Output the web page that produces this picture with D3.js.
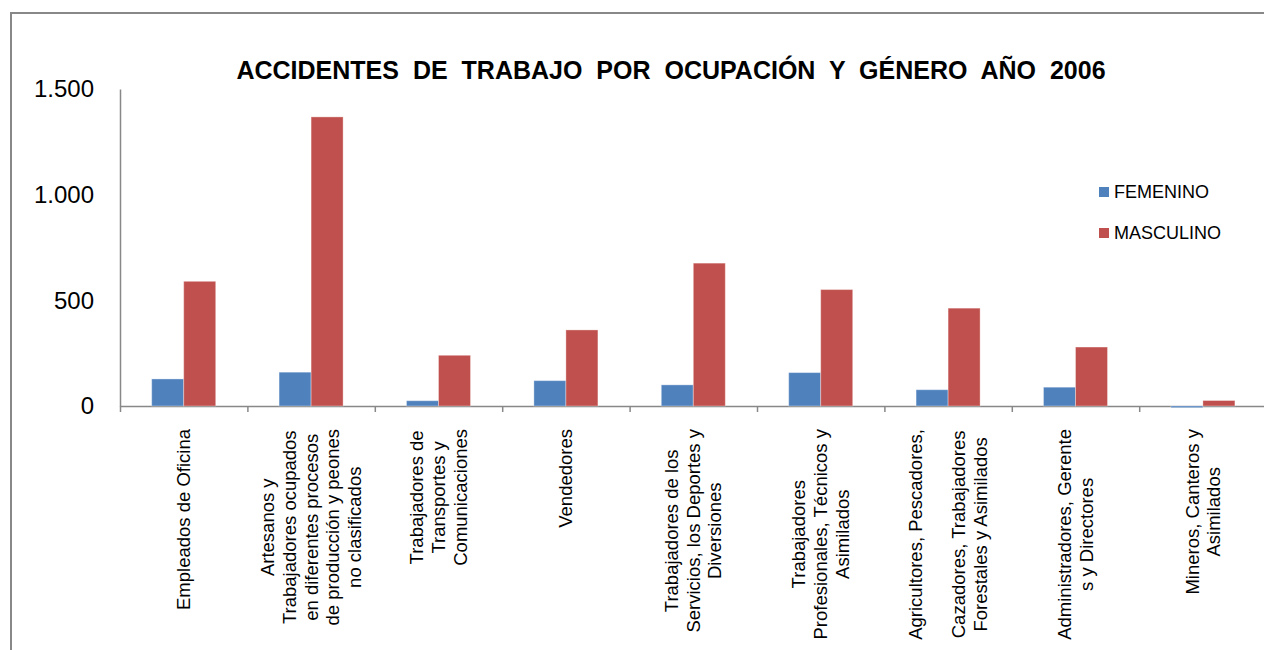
<!DOCTYPE html>
<html>
<head>
<meta charset="utf-8">
<script src="https://cdn.jsdelivr.net/npm/d3@7"></script>
<style>
  body { margin: 0; background: #fff; }
  text { font-family: "Liberation Sans", Arial, sans-serif; fill: #000; }
</style>
</head>
<body>
<svg width="1264" height="650"></svg>
<script>
// categorias (cada una partida en lineas como en el grafico)
var categorias = [
  ["Empleados de Oficina"],
  ["Artesanos y", "Trabajadores ocupados", "en diferentes procesos", "de producción y peones", "no clasificados"],
  ["Trabajadores de", "Transportes y", "Comunicaciones"],
  ["Vendedores"],
  ["Trabajadores de los", "Servicios, los Deportes y", "Diversiones"],
  ["Trabajadores", "Profesionales, Técnicos y", "Asimilados"],
  ["Agricultores, Pescadores,", "", "Cazadores, Trabajadores", "Forestales y Asimilados"],
  ["Administradores, Gerente", "s y Directores"],
  ["Mineros, Canteros y", "Asimilados"]
];
var series = ["FEMENINO", "MASCULINO"];
var femenino  = [128, 160, 25, 120, 100, 158, 77, 89, -8];
var masculino = [590, 1368, 240, 360, 676, 551, 463, 279, 26];
var yTicks = [0, 500, 1000, 1500];
var colores = {FEMENINO: "#4F81BD", MASCULINO: "#C0504D"};

var svg = d3.select("svg");
var mLeft = 120, mTop = 89, mBottom = 406, step = 127.4;

// marco del grafico
svg.append("rect")
   .attr("x", 11).attr("y", 13)
   .attr("width", 1300).attr("height", 700)
   .attr("fill", "none")
   .attr("stroke", "#888")
   .attr("stroke-width", 2);

svg.append("text")
   .attr("x", 671).attr("y", 79)
   .attr("text-anchor", "middle")
   .style("font-size", "25px")
   .style("font-weight", "bold")
   .style("word-spacing", "7px")
   .text("ACCIDENTES DE TRABAJO POR OCUPACIÓN Y GÉNERO AÑO 2006");

var x = d3.scaleBand()
          .domain(d3.range(categorias.length))
          .range([mLeft, mLeft + step * categorias.length]);
var xs = d3.scaleBand().domain(series).range([0, x.bandwidth()]).paddingOuter(0.99);
var y = d3.scaleLinear().domain([0, 1500]).range([mBottom, mTop]);

var loc = d3.formatLocale({decimal: ",", thousands: ".", grouping: [3], currency: ["", ""]});

// barras
var datos = [];
categorias.forEach(function(c, i) {
  datos.push({i: i, s: "FEMENINO", v: femenino[i]});
  datos.push({i: i, s: "MASCULINO", v: masculino[i]});
});

// eje x con marcas entre categorias (debajo de las barras)
var xb = d3.scaleLinear().domain([0, categorias.length]).range(x.range());
var xAxis = svg.append("g")
   .attr("transform", "translate(0," + y(0) + ")")
   .call(d3.axisBottom(xb).tickValues(d3.range(categorias.length + 1))
           .tickSize(6).tickSizeOuter(0).tickFormat(""));
xAxis.select(".domain").attr("stroke", "#888").attr("stroke-width", 1.5);
xAxis.selectAll(".tick line").attr("stroke", "#888").attr("stroke-width", 1.5);

svg.append("g").selectAll("rect")
   .data(datos)
   .enter()
   .append("rect")
   .attr("x", function(d) { return x(d.i) + xs(d.s); })
   .attr("width", xs.bandwidth())
   .attr("y", function(d) { return y(Math.max(0, d.v)); })
   .attr("height", function(d) { return Math.abs(y(d.v) - y(0)); })
   .attr("fill", function(d) { return colores[d.s]; })
   .attr("stroke", "rgba(255,255,255,0.35)")
   .attr("stroke-width", 1);

// eje y
var yAxis = svg.append("g")
   .attr("transform", "translate(" + mLeft + ",0)")
   .call(d3.axisLeft(y).tickValues(yTicks).tickSize(0).tickPadding(26)
           .tickFormat(loc.format(",d")));
yAxis.select(".domain").attr("stroke", "#888").attr("stroke-width", 1.5);
yAxis.selectAll("text").style("font-size", "24px").attr("fill", "#000")
     .style("font-family", "Liberation Sans, Arial, sans-serif");

// etiquetas rotadas
var lh = 21.7;
categorias.forEach(function(lines, i) {
  var g = svg.append("g")
             .attr("transform", "translate(" + (x(i) + x.bandwidth() / 2) + ",429) rotate(-90)");
  var t = g.selectAll("text")
           .data(lines)
           .enter()
           .append("text")
           .attr("text-anchor", "middle")
           .attr("y", function(d, j) { return (j - (lines.length - 1) / 2) * lh; })
           .attr("dy", "0.35em")
           .style("font-size", "18.5px")
           .text(function(d) { return d; });
  var maxW = d3.max(t.nodes(), function(n) { return n.getComputedTextLength(); });
  t.attr("x", -maxW / 2);
});

// leyenda
var leg = svg.append("g").selectAll("g")
   .data(series)
   .enter()
   .append("g")
   .attr("transform", function(d, i) { return "translate(1099," + (187 + i * 41) + ")"; });
leg.append("rect").attr("width", 10).attr("height", 10)
   .attr("fill", function(d) { return colores[d]; });
leg.append("text").attr("x", 15).attr("y", 11)
   .style("font-size", "18px")
   .text(function(d) { return d; });
</script>
</body>
</html>
